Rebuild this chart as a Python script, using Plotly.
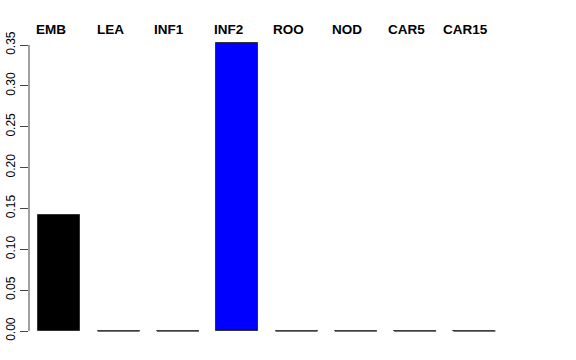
import plotly.graph_objects as go

categories = ["EMB", "LEA", "INF1", "INF2", "ROO", "NOD", "CAR5", "CAR15"]
values = [0.142, 0.0, 0.0, 0.3528, 0.0, 0.0, 0.0, 0.0]
bar_colors = ["#000000", "#bebebe", "#bebebe", "#0000ff", "#bebebe", "#bebebe", "#bebebe", "#bebebe"]
tick_vals = [0.0, 0.05, 0.10, 0.15, 0.20, 0.25, 0.30, 0.35]
tick_text = ["0.00", "0.05", "0.10", "0.15", "0.20", "0.25", "0.30", "0.35"]

BAR_W = 0.708
positions = list(range(len(categories)))

fig = go.Figure()
fig.add_trace(go.Bar(
    x=positions, y=values, width=BAR_W,
    marker=dict(color=bar_colors, line=dict(color="#333333", width=1)),
    hoverinfo="skip", showlegend=False,
))

# zero-height bars drawn as their outline (baseline segments)
zx, zy = [], []
for p, v in zip(positions, values):
    if v == 0:
        zx += [p - BAR_W / 2, p + BAR_W / 2, None]
        zy += [0, 0, None]
fig.add_trace(go.Scatter(x=zx, y=zy, mode="lines",
                         line=dict(color="#444444", width=1.5),
                         hoverinfo="skip", showlegend=False))

# R-style axis line spanning only the tick range
fig.add_shape(type="line", xref="paper", yref="y", x0=0, x1=0,
              y0=tick_vals[0], y1=tick_vals[-1],
              line=dict(color="#444444", width=1))

for p, c in zip(positions, categories):
    fig.add_annotation(x=p, y=1, xref="x", yref="paper", text="<b>%s</b>" % c,
                       showarrow=False, xanchor="center", yanchor="middle",
                       xshift=-8.5, yshift=-9.5,
                       font=dict(family="Liberation Sans, Arial", size=13.5, color="#000000"))

fig.update_layout(
    width=576, height=360,
    margin=dict(l=29, r=66, t=20, b=15, pad=0, autoexpand=False),
    paper_bgcolor="white", plot_bgcolor="white",
    bargap=0,
    xaxis=dict(range=[-0.511, 7.6], visible=False, showgrid=False, zeroline=False,
               automargin=False),
    yaxis=dict(range=[-0.01713, 0.3806], tickvals=tick_vals, ticktext=tick_text,
               tickangle=-90, ticks="outside", ticklen=8, tickcolor="#444444",
               tickwidth=1, showgrid=False, zeroline=False, showline=False,
               automargin=False,
               tickfont=dict(family="Liberation Sans, Arial", size=12, color="#000000")),
    font=dict(family="Liberation Sans, Arial"),
)

fig.write_html("out.html")
